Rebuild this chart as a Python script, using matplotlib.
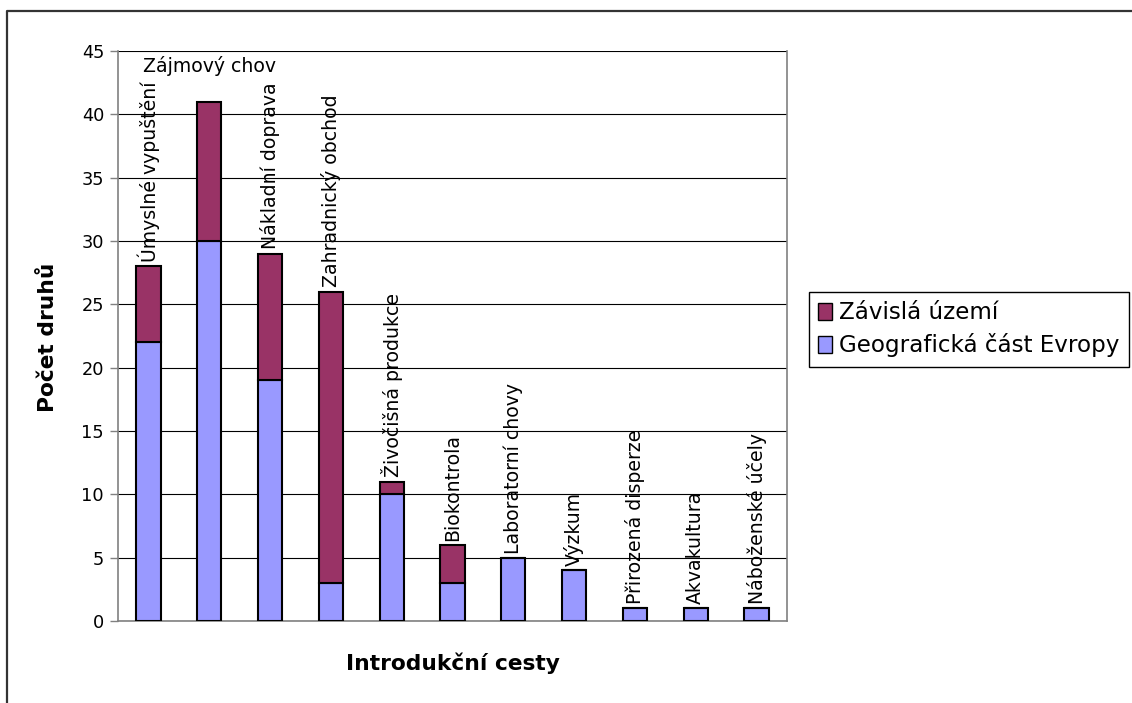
import matplotlib
matplotlib.use("Agg")
import matplotlib.pyplot as plt
from matplotlib.lines import Line2D
from matplotlib.patches import Patch

# Introduction pathways and species counts
categories = [
    "Úmyslné vypuštění", "Zájmový chov", "Nákladní doprava", "Zahradnický obchod",
    "Živočišná produkce", "Biokontrola", "Laboratorní chovy", "Výzkum",
    "Přirozená disperze", "Akvakultura", "Náboženské účely",
]
europe = [22, 30, 19, 3, 10, 3, 5, 4, 1, 1, 1]        # Geografická část Evropy
dependent = [6, 11, 10, 23, 1, 3, 0, 0, 0, 0, 0]      # Závislá území
yticks = [0, 5, 10, 15, 20, 25, 30, 35, 40, 45]

series_names = ["Závislá území", "Geografická část Evropy"]
c_europe = "#9999FF"
c_dep = "#993366"

W, H = 1132, 703
fig = plt.figure(figsize=(W / 100, H / 100), dpi=100)
fig.patch.set_facecolor("white")

ax = fig.add_axes([118 / W, 1 - 621 / H, (787 - 118) / W, (621 - 51) / H])

x = list(range(len(categories)))
ax.bar(x, europe, width=0.4, color=c_europe, edgecolor="black", linewidth=1.5, zorder=3)
ax.bar(x, dependent, width=0.4, bottom=europe, color=c_dep, edgecolor="black",
       linewidth=1.5, zorder=3)

ax.set_xlim(-0.5, len(categories) - 0.5)
ax.set_ylim(0, 45)
ax.set_yticks(yticks)
ax.set_xticks([])
ax.tick_params(axis="y", direction="out", length=6, width=1, color="#808080",
               labelsize=12.8, pad=4)
ax.yaxis.grid(True, color="black", linewidth=0.8, zorder=0)
ax.set_axisbelow(True)
for side in ["left", "right", "bottom"]:
    ax.spines[side].set_color("#808080")
    ax.spines[side].set_linewidth(1.2)
ax.spines["top"].set_visible(False)

# Category labels above the bars
for i, name in enumerate(categories):
    total = europe[i] + dependent[i]
    if name == "Zájmový chov":
        ax.text(i, 43.35, name, ha="center", va="baseline", fontsize=13.6, zorder=5)
    else:
        ax.annotate(name, xy=(i, total), xytext=(0, 3), textcoords="offset points",
                    rotation=90, ha="center", va="bottom", fontsize=13.6, zorder=5)

fig.text(48 / W, 1 - 337 / H, "Počet druhů", rotation=90, ha="center", va="center",
         fontsize=15.7, fontweight="bold")
fig.text(453 / W, 1 - 663 / H, "Introdukční cesty", ha="center", va="center",
         fontsize=15.7, fontweight="bold")

handles = [
    Patch(facecolor=c_dep, edgecolor="black", linewidth=1),
    Patch(facecolor=c_europe, edgecolor="black", linewidth=1),
]
leg = fig.legend(handles, series_names, loc="upper left",
                 bbox_to_anchor=(809 / W, 1 - 292 / H), fontsize=16.6,
                 frameon=True, fancybox=False, framealpha=1, edgecolor="black",
                 handlelength=0.6, handleheight=0.75, handletextpad=0.3,
                 borderpad=0.4, labelspacing=0.4, borderaxespad=0)
leg.get_frame().set_linewidth(1)

# Chart area border (top and left edges)
fig.add_artist(Line2D([7 / W, 7 / W, 1131 / W], [0, 1 - 11 / H, 1 - 11 / H],
                      transform=fig.transFigure, color="#333333", linewidth=1.6))

fig.savefig("out.png", dpi=100, facecolor="white")
